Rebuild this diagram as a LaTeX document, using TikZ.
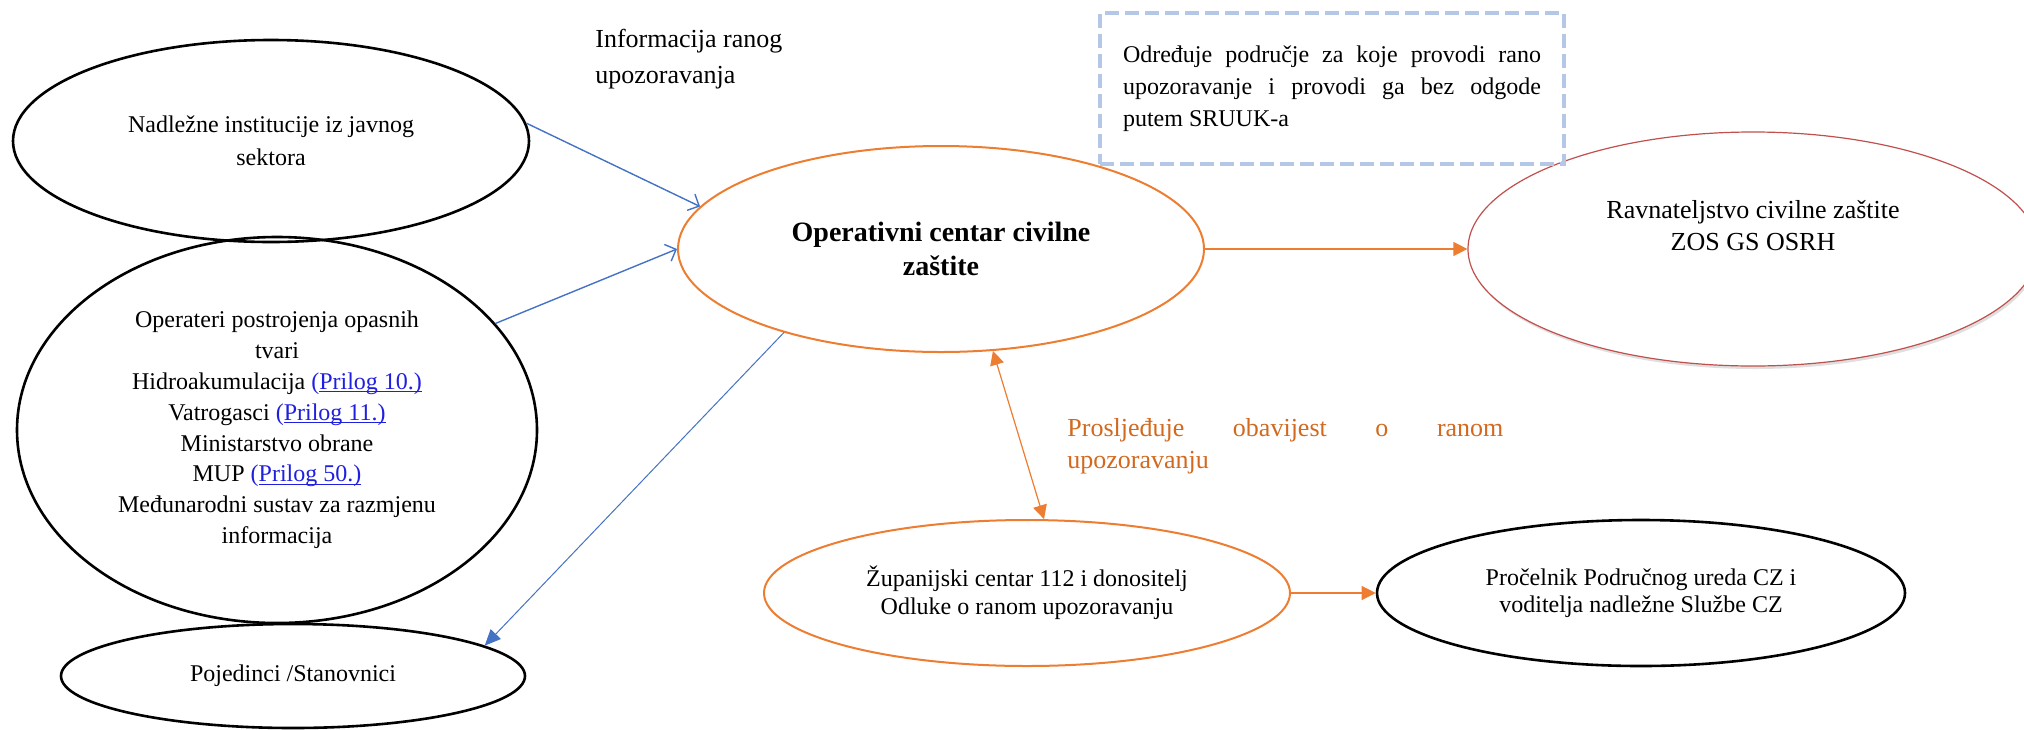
\documentclass[tikz,border=0pt]{standalone}
\usepackage{fontspec}
\setmainfont{Liberation Serif}
\usepackage{xcolor}
\usepackage{tikz}
\usetikzlibrary{arrows.meta,shapes.geometric,shadows}

\definecolor{ocOrange}{HTML}{ED7D31}
\definecolor{ocBlue}{HTML}{4472C4}
\definecolor{ocRed}{HTML}{C0504D}
\definecolor{dashBlue}{HTML}{B4C7E7}
\definecolor{labelOrange}{HTML}{D2691E}
\definecolor{linkBlue}{HTML}{1F1FE0}

\hyphenpenalty=10000
\exhyphenpenalty=10000

\newsavebox{\lnkbox}
\newcommand{\ulink}[1]{\sbox{\lnkbox}{#1}\rlap{\rule[-1.3pt]{\wd\lnkbox}{0.5pt}}\usebox{\lnkbox}}
\newcommand{\prilog}[1]{{\color{linkBlue}(\ulink{Prilog #1.)}}}

\begin{document}
\begin{tikzpicture}[x=0.5pt, y=-0.5pt,
  ell/.style={draw, ellipse, inner sep=0pt, align=center},
  blackell/.style={ell, line width=1.3pt},
  orangeell/.style={ell, draw=ocOrange, line width=1pt},
  bluearrow/.style={color=ocBlue, line width=0.7pt, -{Straight Barb[length=4.5pt,width=9pt]}},
  bluefill/.style={color=ocBlue, line width=0.5pt, -{Triangle[length=8pt,width=7pt]}},
  orangearrow/.style={color=ocOrange, line width=0.6pt, -{Triangle[length=7pt,width=7pt]}},
  orangeboth/.style={color=ocOrange, line width=0.6pt, {Triangle[length=7pt,width=7pt]}-{Triangle[length=7pt,width=7pt]}},
]
\useasboundingbox (0,0) rectangle (2024,729);

% left column
\node[blackell, minimum width=258pt, minimum height=101pt, font={\fontsize{12}{16.7}\selectfont}] (javni) at (271,141) {Nadležne institucije iz javnog\\sektora};
\node[blackell, minimum width=260pt, minimum height=193pt, font={\fontsize{12}{15.4}\selectfont}] (operateri) at (277,430) {Operateri postrojenja opasnih\\tvari\\Hidroakumulacija \prilog{10}\\Vatrogasci \prilog{11}\\Ministarstvo obrane\\MUP \prilog{50}\\Međunarodni sustav za razmjenu\\informacija};
\node[blackell, minimum width=232pt, minimum height=52pt, font={\fontsize{12}{14}\selectfont}] (stanovnici) at (293,676) {Pojedinci /Stanovnici};

% centre
\node[orangeell, minimum width=263pt, minimum height=103pt, font={\fontsize{14}{17.2}\selectfont\bfseries}] (occz) at (941,249) {Operativni centar civilne\\zaštite};
\node[orangeell, minimum width=263pt, minimum height=73pt, font={\fontsize{12}{14.2}\selectfont}] (zupcentar) at (1027,593) {Županijski centar 112 i donositelj\\Odluke o ranom upozoravanju};

% right column
\node[ell, draw=ocRed, line width=0.6pt, fill=white, drop shadow={shadow xshift=0.8pt, shadow yshift=-1.5pt, opacity=0.25}, minimum width=285pt, minimum height=117pt, font={\fontsize{13}{15.8}\selectfont}] (ravnat) at (1753,249) {Ravnateljstvo civilne zaštite\\ZOS GS OSRH\\[8pt]\mbox{}};
\node[blackell, minimum width=264pt, minimum height=73pt, font={\fontsize{12}{13.5}\selectfont}] (procelnik) at (1641,593) {Pročelnik Područnog ureda CZ i\\voditelja nadležne Službe CZ};

% notes
\node[draw=dashBlue, line width=1.9pt, dash pattern=on 7pt off 3pt, text width=209pt, inner xsep=11.5pt, minimum height=75.5pt, align=justify, font={\fontsize{12}{16}\selectfont}] (odredjuje) at (1332,88.5) {Određuje područje za koje provodi rano upozoravanje i provodi ga bez odgode putem SRUUK-a};
\node[anchor=west, inner sep=0pt, align=left, font={\fontsize{13}{18}\selectfont}] (infolbl) at (595,59) {Informacija ranog\\upozoravanja};
\node[anchor=west, inner sep=0pt, text width=218pt, align=justify, text=labelOrange, font={\fontsize{13}{15.8}\selectfont}] (proslbl) at (1067,446) {Prosljeđuje obavijest o ranom upozoravanju};

\draw[bluearrow] (javni.4) -- (occz.170);
\draw[bluearrow] (operateri.26) -- (occz.180);
\draw[bluefill] (occz.208) -- (stanovnici.9);
\draw[orangearrow] (occz.east) -- (ravnat.west);
\draw[orangeboth] (occz.-63) -- (zupcentar.77);
\draw[orangearrow] (zupcentar.east) -- (procelnik.west);

\end{tikzpicture}
\end{document}
